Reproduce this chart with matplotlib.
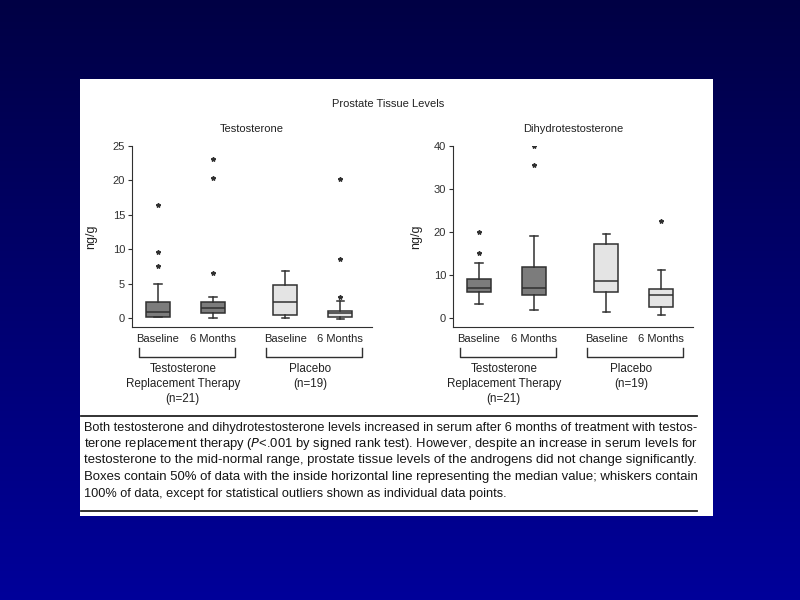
import matplotlib.pyplot as plt
import numpy as np
from matplotlib.patches import Rectangle
from matplotlib.colors import LinearSegmentedColormap
import matplotlib.transforms as mtransforms

plt.rcParams['font.family'] = ['Liberation Sans', 'DejaVu Sans']

# box stats: (whislo, q1, med, q3, whishi)
time_labels = ['Baseline', '6 Months', 'Baseline', '6 Months']
group_labels = ['Testosterone\nReplacement Therapy\n(n=21)', 'Placebo\n(n=19)']

testo_stats = [(0.1, 0.2, 0.8, 2.3, 5.0),
               (0.05, 0.7, 1.45, 2.3, 3.1),
               (0.05, 0.4, 2.3, 4.75, 6.8),
               (-0.2, 0.2, 0.75, 1.05, 2.5)]
testo_fliers = [[7.6, 9.6, 16.4], [6.6, 20.4, 23.1], [], [3.05, 8.6, 20.2]]

dht_stats = [(3.35, 6.0, 7.0, 8.95, 12.7),
             (1.8, 5.3, 7.0, 11.8, 19.0),
             (1.4, 6.0, 8.6, 17.3, 19.5),
             (0.7, 2.65, 5.4, 6.7, 11.2)]
dht_fliers = [[15.0, 19.9], [35.5, 40.0], [], [22.5]]

caption = ["Both testosterone and dihydrotestosterone levels increased in serum after 6 months of treatment with testos-",
           "terone replacement therapy ($\\it{P}$<.001 by signed rank test). However, despite an increase in serum levels for",
           "testosterone to the mid-normal range, prostate tissue levels of the androgens did not change significantly.",
           "Boxes contain 50% of data with the inside horizontal line representing the median value; whiskers contain",
           "100% of data, except for statistical outliers shown as individual data points."]

positions = [1, 2, 3.31, 4.31]
box_colors = ['#7c7c7c', '#7c7c7c', '#e4e4e4', '#e4e4e4']
ink = '#222222'

fig = plt.figure(figsize=(8, 6), dpi=100)

# blue gradient background
bg = fig.add_axes([0, 0, 1, 1], zorder=-10)
grad = np.linspace(0, 1, 256).reshape(-1, 1)
cmap = LinearSegmentedColormap.from_list('bg', ['#000044', '#00009a'])
bg.imshow(grad, aspect='auto', cmap=cmap, extent=[0, 1, 0, 1], origin='upper')
bg.axis('off')

# white panel
fig.patches.append(Rectangle((80/800, 1-516/600), 633/800, 437/600, transform=fig.transFigure,
                             facecolor='white', edgecolor='none', zorder=-5))


def draw_panel(rect, stats, fliers, ylim, yticks, title, labelpad):
    ax = fig.add_axes(rect)
    bxp = []
    for s, f in zip(stats, fliers):
        bxp.append(dict(whislo=s[0], q1=s[1], med=s[2], q3=s[3], whishi=s[4], fliers=f))
    res = ax.bxp(bxp, positions=positions, widths=0.44, patch_artist=True, capwidths=0.13,
                 boxprops=dict(edgecolor='#303030', linewidth=1.1),
                 medianprops=dict(color='#303030', linewidth=1.1),
                 whiskerprops=dict(color='#303030', linewidth=1.1),
                 capprops=dict(color='#303030', linewidth=1.1),
                 flierprops=dict(marker='*', markersize=3.2, markerfacecolor='#303030',
                                 markeredgecolor='#303030', linestyle='none'))
    for patch, c in zip(res['boxes'], box_colors):
        patch.set_facecolor(c)
    ax.set_xlim(0.527, 4.89)
    ax.set_ylim(*ylim)
    ax.set_yticks(yticks)
    ax.spines['top'].set_visible(False)
    ax.spines['right'].set_visible(False)
    ax.spines['left'].set_bounds(ylim[0], yticks[-1])
    ax.spines['left'].set_color('#303030')
    ax.spines['bottom'].set_color('#303030')
    ax.tick_params(axis='y', length=3, labelsize=8, colors='#303030', pad=2)
    ax.tick_params(axis='x', length=0, labelsize=8, colors=ink, pad=5)
    ax.set_xticks(positions)
    ax.set_xticklabels(time_labels)
    ax.set_ylabel('ng/g', fontsize=9, color=ink, labelpad=labelpad)
    ax.set_title(title, fontsize=8, color=ink, pad=10)
    ax.set_facecolor('none')
    trans = mtransforms.blended_transform_factory(ax.transData, ax.transAxes)
    for g in range(2):
        x0 = positions[2*g] - 0.35
        x1 = positions[2*g+1] + 0.4
        ax.plot([x0, x0, x1, x1], [-0.115, -0.165, -0.165, -0.115], color='#303030',
                linewidth=1.0, transform=trans, clip_on=False)
        ax.text((positions[2*g] + positions[2*g+1]) / 2 - 0.05, -0.2, group_labels[g],
                transform=trans, ha='center', va='top', fontsize=8.4, color=ink,
                linespacing=1.3)
    return ax


draw_panel([132/800, 1-327/600, 240/800, 181/600], testo_stats, testo_fliers,
           (-1.31, 25), [0, 5, 10, 15, 20, 25], 'Testosterone', 11)
draw_panel([453/800, 1-327/600, 240/800, 181/600], dht_stats, dht_fliers,
           (-2.1, 40), [0, 10, 20, 30, 40], 'Dihydrotestosterone', 8)

fig.text(388/800, 1-104/600, 'Prostate Tissue Levels', ha='center', va='center',
         fontsize=8, color=ink)

# caption between two rules; full lines scaled a touch to fill the measure
fig.add_artist(plt.Line2D([81/800, 697/800], [1-416/600, 1-416/600], color=ink, linewidth=1.3))
fig.add_artist(plt.Line2D([81/800, 697/800], [1-511/600, 1-511/600], color=ink, linewidth=1.3))

renderer = fig.canvas.get_renderer()
left_px, right_px = 84, 697
fs = 9.2
for i, line in enumerate(caption):
    y = 1 - (430.5 + i * 16.5) / 600
    t = fig.text(left_px / 800, y, line, ha='left', va='baseline', fontsize=fs, color='#151515')
    if i < len(caption) - 1:
        w = t.get_window_extent(renderer).width
        t.set_fontsize(fs * (right_px - left_px) / w)

fig.savefig('out.png', dpi=100)
